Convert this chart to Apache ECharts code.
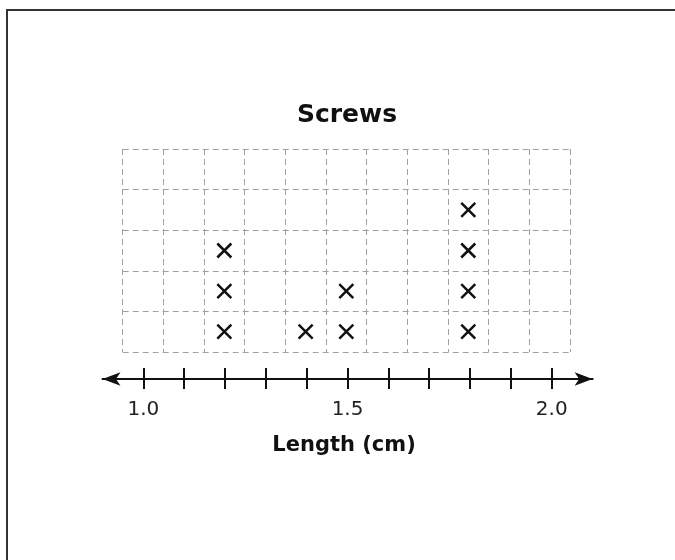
<!DOCTYPE html>
<html><head><meta charset="utf-8">
<script src="https://cdn.jsdelivr.net/npm/echarts@6/dist/echarts.min.js"></script>
<style>html,body{margin:0;padding:0;background:#fff}#c{width:675px;height:560px}</style>
</head><body><div id="c"></div>
<script>
// Dot-plot categories (one column per 0.1 cm)
const categories = ['1.0','1.1','1.2','1.3','1.4','1.5','1.6','1.7','1.8','1.9','2.0'];
// Number line points (with one padding step on each side for the arrows)
const numberLine = ['0.9','1.0','1.1','1.2','1.3','1.4','1.5','1.6','1.7','1.8','1.9','2.0','2.1'];
const tickLabels = ['1.0','1.5','2.0'];
// Each X mark is one screw length (cm)
const screwLengths = ['1.2','1.2','1.2','1.4','1.5','1.5','1.8','1.8','1.8','1.8'];
const rowCount = 5;

const counts = {};
const points = screwLengths.map(v => {
  counts[v] = (counts[v] || 0) + 1;
  return [v, counts[v] - 0.5];
});

const dash = { color: '#a0a0a0', width: 1, type: [6, 4] };
const font = 'DejaVu Sans, Verdana, sans-serif';
const isTick = (i, v) => categories.indexOf(v) >= 0;

const chart = echarts.init(document.getElementById('c'));
chart.setOption({
  animation: false,
  backgroundColor: '#fff',
  graphic: [{
    type: 'rect', silent: true,
    shape: { x: 7, y: 10, width: 720, height: 620 },
    style: { fill: 'none', stroke: '#333', lineWidth: 2 }
  }],
  title: {
    text: 'Screws', left: 342, top: 98, textAlign: 'center',
    textStyle: { fontFamily: font, fontWeight: 'bold', fontSize: 25, color: '#111' }
  },
  grid: [
    { left: 122.7, width: 447.2, top: 149, height: 203 },
    { left: 102.5, width: 490.1, top: 369, height: 10 }
  ],
  xAxis: [
    {
      gridIndex: 0, type: 'category', data: categories, boundaryGap: true,
      axisLine: { show: false }, axisTick: { show: false }, axisLabel: { show: false },
      splitLine: { show: true, interval: 0, lineStyle: dash }
    },
    {
      gridIndex: 1, type: 'category', data: numberLine, boundaryGap: false, position: 'bottom',
      axisLine: { show: true, symbol: ['arrow', 'arrow'], symbolSize: [10, 18], symbolOffset: [0, 0],
        lineStyle: { color: '#111', width: 2 } },
      axisTick: { show: true, inside: false, length: 10, interval: isTick, lineStyle: { color: '#111', width: 2 } },
      axisLabel: { show: true, interval: (i, v) => tickLabels.indexOf(v) >= 0, margin: 21,
        fontFamily: font, fontSize: 20, color: '#222' },
      splitLine: { show: false },
      name: 'Length (cm)', nameLocation: 'middle', nameGap: 56,
      nameTextStyle: { fontFamily: font, fontWeight: 'bold', fontSize: 21, color: '#111', padding: [0, 7, 0, 0] }
    },
    {
      gridIndex: 1, type: 'category', data: numberLine, boundaryGap: false, position: 'bottom',
      axisLine: { show: false },
      axisTick: { show: true, inside: true, length: 11, interval: isTick, lineStyle: { color: '#111', width: 2 } },
      axisLabel: { show: false }, splitLine: { show: false }
    }
  ],
  yAxis: [
    {
      gridIndex: 0, type: 'value', min: 0, max: rowCount, interval: 1,
      axisLine: { show: false }, axisTick: { show: false }, axisLabel: { show: false },
      splitLine: { show: true, lineStyle: dash }
    },
    { gridIndex: 1, type: 'value', show: false }
  ],
  series: [{
    type: 'scatter', xAxisIndex: 0, yAxisIndex: 0, data: points, silent: true,
    symbol: 'path://M0,0L10,10M10,0L0,10', symbolSize: 14,
    itemStyle: { color: 'none', borderColor: '#111', borderWidth: 2.5, opacity: 1 }
  }]
});
</script></body></html>
